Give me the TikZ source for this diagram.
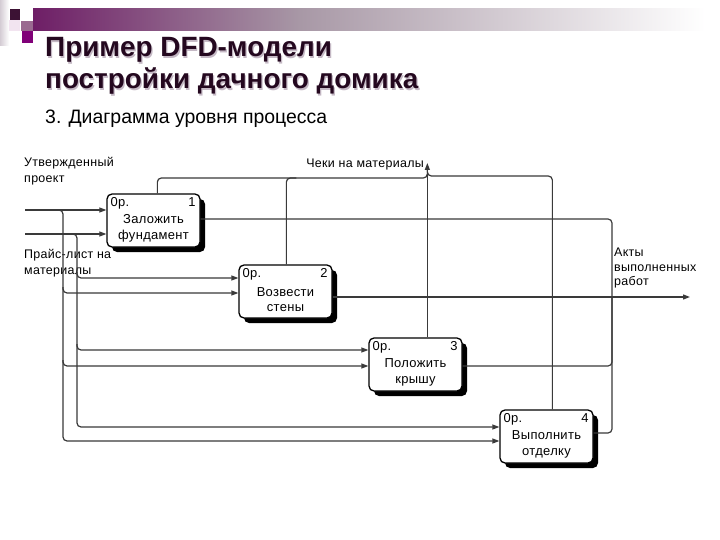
\documentclass[tikz,border=0pt]{standalone}
\usepackage{fontspec}
\setmainfont{Liberation Sans}
\newfontfamily\dgfont[LetterSpace=2.5]{Liberation Sans}
\usetikzlibrary{shadows,calc,arrows.meta}
\definecolor{ttl}{HTML}{24081F}
\definecolor{ttlsh}{HTML}{C4B8C4}
\definecolor{barL}{HTML}{6E1E66}
\definecolor{barM}{HTML}{A898A6}
\definecolor{sqDark}{HTML}{3C1234}
\definecolor{sqMauve}{HTML}{9A6A90}
\definecolor{sqPurple}{HTML}{800078}
\definecolor{sqLight}{HTML}{F2E4F0}
\definecolor{stripL}{HTML}{D4CCD4}
\definecolor{lnk}{HTML}{3A3A3A}
\begin{document}
\begin{tikzpicture}[x=1bp,y=-1bp,
  proc/.style={draw=black, line width=1.3bp, rounded corners=5bp, fill=white,
    minimum width=93bp, minimum height=53bp, inner sep=0pt,
    drop shadow={shadow xshift=5bp, shadow yshift=-5bp, fill=black, opacity=1}},
  dtxt/.style={font=\dgfont\fontsize{13}{15.5}\selectfont, inner sep=0pt, align=center},
  lbl/.style={font=\dgfont\fontsize{12.5}{16}\selectfont, inner sep=0pt, align=left},
  link/.style={draw=lnk, line width=1.2bp, rounded corners=4bp},
  flow/.style={link, -{Triangle[length=7bp,width=5bp]}},
  ttlfont/.style={font=\bfseries\fontsize{28}{30}\selectfont, inner sep=0pt, anchor=base west}
]
\useasboundingbox (0,0) rectangle (720,540);
\fill[white] (0,0) rectangle (720,540);

% header decoration
\shade[left color=stripL, right color=white] (0,0) rectangle (9,46);
\fill[sqLight] (9,20) rectangle (20,31);
\fill[sqDark] (10,9) rectangle (20,20);
\fill[sqMauve] (21,21) rectangle (33,31);
\fill[sqPurple] (22,31) rectangle (33,43);
\shade[left color=barL, right color=barM] (33,9) rectangle (300,31);
\shade[left color=barM, right color=white] (300,9) rectangle (705,31);

% titles
\node[ttlfont, text=ttlsh] (t1s) at (46.2,58.2) {Пример DFD-модели};
\node[ttlfont, text=ttl] (t1) at (45,57) {Пример DFD-модели};
\node[ttlfont, text=ttlsh] (t2s) at (46.2,90.2) {постройки дачного домика};
\node[ttlfont, text=ttl] (t2) at (45,89) {постройки дачного домика};
\node[font=\fontsize{19.5}{22}\selectfont, inner sep=0pt, anchor=base west] (sub) at (45,124) {3. Диаграмма уровня процесса};

% process boxes
\node[proc] (b1) at (153.5,220.5) {};
\node[proc] (b2) at (285.5,291.5) {};
\node[proc] (b3) at (415.5,364.5) {};
\node[proc] (b4) at (546.5,436.5) {};
\foreach \b/\n/\l in {b1/1/{Заложить\\фундамент}, b2/2/{Возвести\\стены}, b3/3/{Положить\\крышу}, b4/4/{Выполнить\\отделку}}{
  \node[dtxt, anchor=north west] (\b code) at ($(\b.north west)+(4,4)$) {0р.};
  \node[dtxt, anchor=north east] (\b num) at ($(\b.north east)+(-5,4)$) {\n};
  \node[dtxt] (\b name) at ($(\b.center)+(0,8)$) {\l};
}

% labels
\node[lbl, anchor=north west] (lA) at (24,157) {Утвержденный\\проект};
\node[lbl, anchor=north west] (lB) at (24,249) {Прайс-лист на\\материалы};
\node[lbl, anchor=base east] (lC) at (424,168) {Чеки на материалы};
\node[lbl, anchor=north west, font=\dgfont\fontsize{12.5}{14.5}\selectfont] (lD) at (614,248) {Акты\\выполненных\\работ};

% input coordinates
\coordinate (srcA) at (25,210);
\coordinate (srcB) at (25,234);
\coordinate (jA) at (63,210);
\coordinate (jB) at (77,234);
\coordinate (b2i1) at (b2.west |- 0,278);
\coordinate (b2i2) at (b2.west |- 0,293);
\coordinate (b3i1) at (b3.west |- 0,350);
\coordinate (b3i2) at (b3.west |- 0,366);
\coordinate (b4i1) at (b4.west |- 0,427);
\coordinate (b4i2) at (b4.west |- 0,441);

% inputs
\draw[flow] (srcA) -- (srcA -| b1.west);
\draw[flow] (srcB) -- (srcB -| b1.west);
\draw[flow] ($(jA)+(-6,0)$) -- (jA) -- (jA |- b4i2) -- (b4i2);
\draw[flow] ($(jB)+(-6,0)$) -- (jB) -- (jB |- b4i1) -- (b4i1);
\draw[flow] ($(jA |- b2i2)+(0,-6)$) -- (jA |- b2i2) -- (b2i2);
\draw[flow] ($(jA |- b3i2)+(0,-6)$) -- (jA |- b3i2) -- (b3i2);
\draw[flow] ($(jB |- b2i1)+(0,-6)$) -- (jB |- b2i1) -- (b2i1);
\draw[flow] ($(jB |- b3i1)+(0,-6)$) -- (jB |- b3i1) -- (b3i1);

% "checks" output
\coordinate (o1) at ($(b1.north west)+(51,0)$);
\coordinate (o2) at ($(b2.north west)+(48,0)$);
\coordinate (o3) at ($(b3.north west)+(59,0)$);
\coordinate (o4) at ($(b4.north west)+(53,0)$);
\coordinate (chk) at (o3 |- 0,163);
\draw[link] (o1) -- (o1 |- 0,178) -- (o3 |- 0,178) -- (o3 |- 0,170);
\draw[link] (o2) -- (o2 |- 0,178) -- ($(o2 |- 0,178)+(10,0)$);
\draw[link] (o4) -- (o4 |- 0,176) -- (o3 |- 0,176) -- (o3 |- 0,170);
\draw[flow] (o3) -- (chk);

% "acts" output
\coordinate (r1) at (b1.east |- 0,219);
\coordinate (r2) at (b2.east |- 0,297);
\coordinate (r3) at (b3.east |- 0,366);
\coordinate (r4) at (b4.east |- 0,433);
\coordinate (col) at (612,297);
\coordinate (out) at (690,297);
\draw[link] (r1) -- (col |- r1) -- (col);
\draw[link] (r3) -- (col |- r3) -- (col);
\draw[link] (r4) -- (col |- r4) -- (col);
\draw[flow] (r2) -- (out);
\end{tikzpicture}
\end{document}
